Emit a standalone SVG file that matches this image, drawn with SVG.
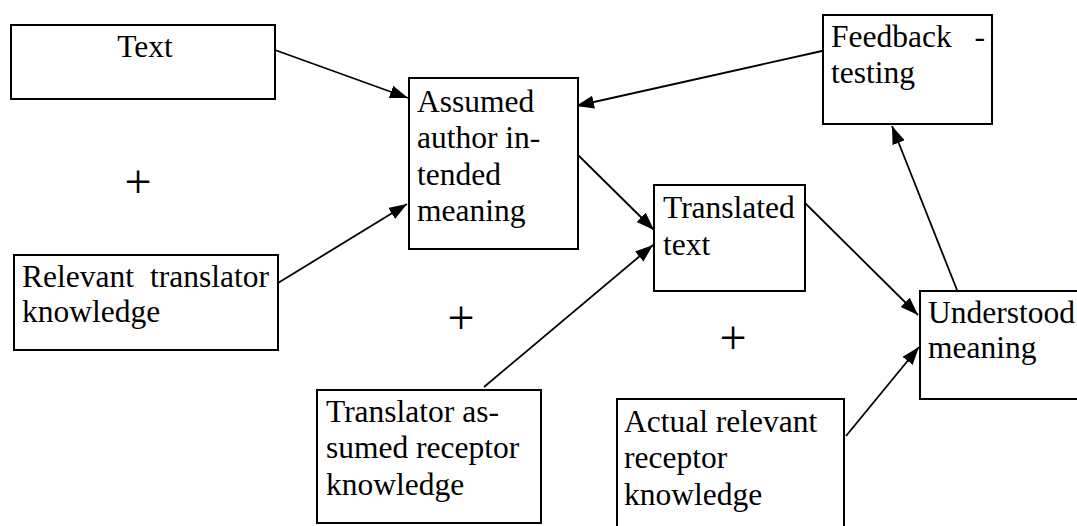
<svg xmlns="http://www.w3.org/2000/svg" width="1077" height="526" viewBox="0 0 1077 526">
<style>
.box{fill:#fff;stroke:#000;stroke-width:2}
.t{font-family:"Liberation Serif","Times New Roman",serif;font-size:31.5px;fill:#000}
.plus{font-family:"Liberation Serif","Times New Roman",serif;font-size:48px;fill:#000;text-anchor:middle}
.c{stroke:#000;stroke-width:1.8;fill:none;marker-end:url(#ah)}
</style>
<defs>
<marker id="ah" markerUnits="userSpaceOnUse" markerWidth="19" markerHeight="14" refX="18" refY="6.5" orient="auto">
<path d="M0,0 L18,6.5 L0,13 z" fill="#000"/>
</marker>
</defs>
<rect width="1077" height="526" fill="#fff"/>
<g id="connectors">
<line class="c" x1="275" y1="50" x2="408" y2="98"/>
<line class="c" x1="278" y1="283" x2="407" y2="204"/>
<line class="c" x1="822" y1="51" x2="576" y2="106"/>
<line class="c" x1="578" y1="155" x2="654" y2="230"/>
<line class="c" x1="484" y1="387" x2="653" y2="245"/>
<line class="c" x1="805" y1="203" x2="918" y2="315"/>
<line class="c" x1="846" y1="436" x2="919" y2="347"/>
<line class="c" x1="957" y1="290" x2="892" y2="126"/>
</g>
<g id="n-text">
<rect class="box" x="11" y="25" width="264" height="74"/>
<text class="t" x="145" y="57" text-anchor="middle">Text</text>
</g>
<g id="n-assumed">
<rect class="box" x="409" y="78" width="169" height="171"/>
<text class="t" x="417" y="112">Assumed</text>
<text class="t" x="417" y="148">author in-</text>
<text class="t" x="417" y="185">tended</text>
<text class="t" x="417" y="221">meaning</text>
</g>
<g id="n-feedback">
<rect class="box" x="823" y="15" width="169" height="109"/>
<text class="t" x="831" y="47">Feedback</text>
<text class="t" x="985" y="47" text-anchor="end">-</text>
<text class="t" x="831" y="83">testing</text>
</g>
<g id="n-relevant">
<rect class="box" x="14" y="255" width="264" height="95"/>
<text class="t" x="22" y="287">Relevant</text>
<text class="t" x="269" y="287" text-anchor="end">translator</text>
<text class="t" x="22" y="322">knowledge</text>
</g>
<g id="n-translated">
<rect class="box" x="654" y="185" width="151" height="106"/>
<text class="t" x="663" y="218">Translated</text>
<text class="t" x="663" y="255">text</text>
</g>
<g id="n-understood">
<rect class="box" x="920" y="291" width="160" height="108"/>
<text class="t" x="928" y="323">Understood</text>
<text class="t" x="928" y="358">meaning</text>
</g>
<g id="n-translator">
<rect class="box" x="317" y="390" width="224" height="133"/>
<text class="t" x="326" y="422">Translator as-</text>
<text class="t" x="326" y="458">sumed receptor</text>
<text class="t" x="326" y="495">knowledge</text>
</g>
<g id="n-actual">
<rect class="box" x="617" y="399" width="227" height="140"/>
<text class="t" x="624" y="432">Actual relevant</text>
<text class="t" x="624" y="468">receptor</text>
<text class="t" x="624" y="505">knowledge</text>
</g>
<g id="plus-signs">
<text class="plus" x="138" y="198">+</text>
<text class="plus" x="461" y="334">+</text>
<text class="plus" x="733" y="354">+</text>
</g>
</svg>
